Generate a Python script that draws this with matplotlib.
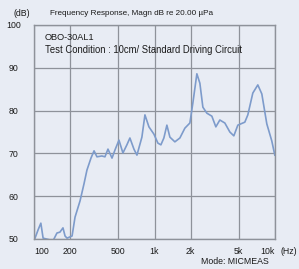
import numpy as np
import matplotlib
matplotlib.use("Agg")
import matplotlib.pyplot as plt

# 频率响应数据
freq = [100, 102, 108, 114, 119, 144, 155, 164, 174, 181, 188, 207, 219, 241, 260, 275,
        297, 315, 333, 366, 388, 411, 444, 470, 507, 547, 590, 625, 675, 715, 786, 833,
        899, 989, 1067, 1130, 1196, 1267, 1342, 1476, 1624, 1787, 1966, 2082, 2247, 2380,
        2520, 2720, 2992, 3229, 3485, 3835, 4220, 4554, 4915, 5618, 5950, 6545, 7201,
        7773, 8551, 9408, 9961]
spl = [49.5, 50.2, 52.1, 53.7, 50.2, 49.6, 51.4, 51.6, 52.6, 50.7, 50.2, 50.7, 55.1,
       58.9, 62.9, 66.1, 68.9, 70.6, 69.2, 69.4, 69.2, 71.0, 68.9, 70.8, 73.1, 70.1,
       72.0, 73.6, 71.0, 69.6, 73.8, 79.0, 76.2, 74.5, 72.4, 72.0, 73.6, 76.6, 73.8,
       72.7, 73.6, 75.9, 77.1, 81.8, 88.6, 86.4, 80.8, 79.4, 78.7, 76.2, 77.8, 77.1,
       75.0, 74.1, 76.6, 77.3, 79.0, 84.1, 86.0, 83.9, 76.9, 72.9, 69.6]

x_ticks = [100, 200, 500, 1000, 2000, 5000, 10000]
x_labels = ["100", "200", "500", "1k", "2k", "5k", "10k"]
y_ticks = [50, 60, 70, 80, 90, 100]

bg = "#e8ecf4"
grid_c = "#8e929a"
plt.rcParams['font.family'] = ['Liberation Sans', 'DejaVu Sans']

fig = plt.figure(figsize=(2.99, 2.69), dpi=100, facecolor=bg)
ax = fig.add_axes([34 / 299, 30 / 269, 241 / 299, 214 / 269], facecolor=bg)

ax.plot(freq, spl, color="#7d9bcb", lw=1.2)
ax.set_xscale("log")
ax.set_xlim(100, 10000)
ax.set_ylim(50, 100)

ax.set_xticks(x_ticks)
ax.set_xticklabels(x_labels)
ax.xaxis.set_minor_locator(matplotlib.ticker.NullLocator())
ax.set_yticks(y_ticks)
ax.grid(True, color=grid_c, lw=0.9)
ax.tick_params(length=0, labelsize=6.3, colors="#1a1a1a")
ax.tick_params(axis="x", pad=6)
ax.tick_params(axis="y", pad=15)
for t in ax.get_yticklabels():
    t.set_ha("center")
lbls = ax.get_xticklabels()
lbls[0].set_ha("left")
lbls[-1].set_ha("right")
for s in ax.spines.values():
    s.set_color(grid_c)
    s.set_linewidth(1.0)

def txt(x, y, s, size=6.3, **kw):
    fig.text(x / 299, 1 - y / 269, s, fontsize=size, color="#1a1a1a", va="center", **kw)

txt(22, 14, "(dB)", ha="center")
txt(50, 14, "Frequency Response, Magn dB re 20.00 µPa", size=5.9, ha="left")
txt(45, 38, "OBO-30AL1", size=6.6, ha="left")
txt(45, 50, "Test Condition : 10cm/ Standard Driving Circuit", size=6.85, ha="left")
txt(289, 251, "(Hz)", ha="center")
txt(235, 262, "Mode: MICMEAS", ha="center")

fig.savefig("out.png", dpi=100, facecolor=bg)
